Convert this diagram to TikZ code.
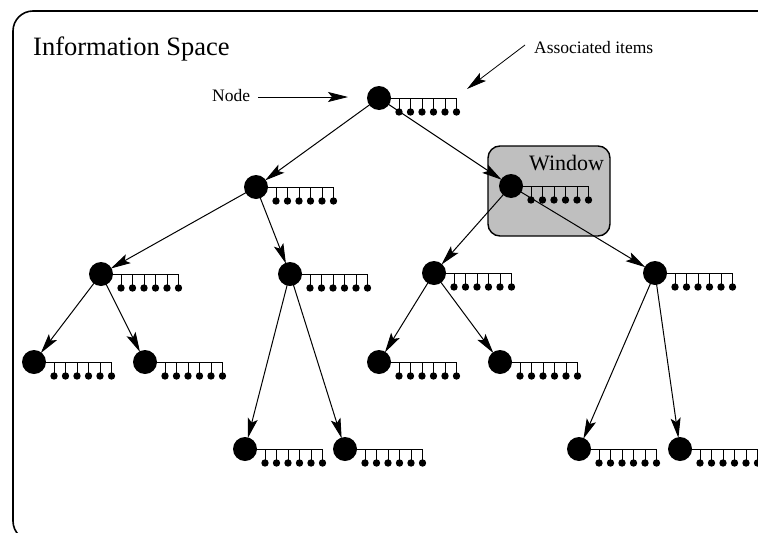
\documentclass[tikz,border=0pt]{standalone}
\usepackage{fontspec}
\setmainfont{Liberation Serif}
\usetikzlibrary{arrows.meta}
\tikzset{
    tree-node/.style = {circle, fill=black, minimum size=24pt, inner sep=0pt},
    tree-edge/.style = {-{Stealth[length=20pt,width=10pt,inset=4pt]}, line width=1pt, shorten <=-1pt, shorten >=-1pt},
    note-edge/.style = {-{Stealth[length=20pt,width=10pt,inset=4pt]}, line width=0.8pt},
    note-text/.style = {anchor=base west, inner sep=0pt, font=\fontsize{17.5}{20}\selectfont},
    window-box/.style = {draw, fill=black!25, rounded corners=12pt, line width=1.4pt},
    items/.pic = {
        \draw[line width=1pt] (12,0) -- (78,0);
        \foreach \i in {0,...,5} {
            \draw[line width=1pt] (20+11.5*\i,0) -- ++(0,14);
            \fill (20+11.5*\i,14) circle (3.7);
        }
    },
}

\begin{document}
\begin{tikzpicture}[x=1pt, y=-1pt]
\useasboundingbox (0,0) rectangle (758,533);
% outer frame, cut off at right and bottom
\draw[line width=1.6pt, rounded corners=20pt] (800,11) -- (13,11) -- (13,541) -- (800,541);
\node[anchor=base west, inner sep=0pt, font=\fontsize{26.5}{30}\selectfont] (title) at (33,55) {Information Space};

% window
\draw[window-box] (488,146) rectangle (610,236);
\node[anchor=base west, inner sep=0pt, font=\fontsize{22}{26}\selectfont] (window) at (529,170) {Window};

% nodes
\node[tree-node] (root) at (379,98) {};
\node[tree-node] (a) at (256,187) {};
\node[tree-node] (b) at (511,186) {};
\node[tree-node] (aa) at (101,274) {};
\node[tree-node] (ab) at (290,274) {};
\node[tree-node] (ba) at (434,273) {};
\node[tree-node] (bb) at (655,273) {};
\node[tree-node] (aaa) at (34,362) {};
\node[tree-node] (aab) at (145,362) {};
\node[tree-node] (baa) at (379,362) {};
\node[tree-node] (bab) at (500,362) {};
\node[tree-node] (aba) at (245,449) {};
\node[tree-node] (abb) at (345,449) {};
\node[tree-node] (bba) at (579,449) {};
\node[tree-node] (bbb) at (680,449) {};

\foreach \n in {root,a,b,aa,ab,ba,bb,aaa,aab,baa,bab,aba,abb,bba,bbb}
    \pic at (\n) {items};

% edges
\foreach \p/\c in {root/a, root/b, a/aa, a/ab, b/ba, b/bb, aa/aaa, aa/aab,
                   ab/aba, ab/abb, ba/baa, ba/bab, bb/bba, bb/bbb}
    \draw[tree-edge] (\p) -- (\c);

% labels
\node[note-text] (node-label) at (212,101) {Node};
\coordinate (node-start) at (258,97);
\coordinate (node-tip) at (348,97);
\draw[note-edge] (node-start) -- (node-tip);
\node[note-text] (items-label) at (534,53) {Associated items};
\coordinate (items-start) at (525,45);
\coordinate (items-tip) at (467,89);
\draw[note-edge] (items-start) -- (items-tip);
\end{tikzpicture}
\end{document}
